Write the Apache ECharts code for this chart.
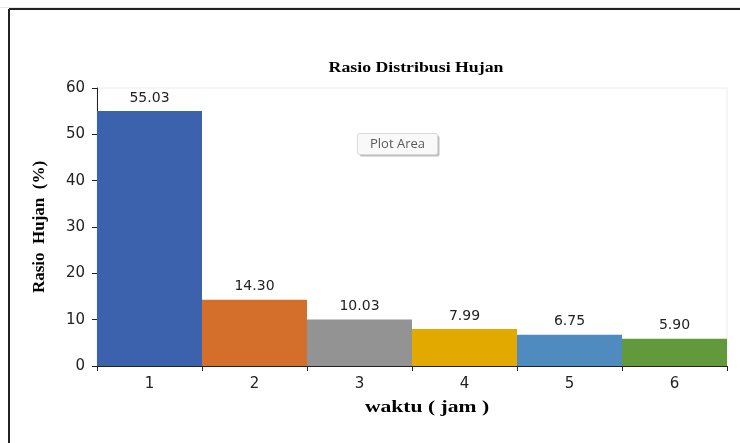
<!DOCTYPE html>
<html>
<head>
<meta charset="utf-8">
<script src="https://cdn.jsdelivr.net/npm/echarts@6/dist/echarts.min.js"></script>
<style>
  html, body { margin: 0; padding: 0; background: #fff; }
  #chart { width: 740px; height: 443px; }
</style>
</head>
<body>
<div id="chart"></div>
<script>
// Hourly rainfall distribution ratio
const categories = ['1', '2', '3', '4', '5', '6'];
const ratioValues = [55.03, 14.30, 10.03, 7.99, 6.75, 5.90];
const barColors = ['#3d62ad', '#d46e2b', '#939393', '#e2aa00', '#4f8bbf', '#62993c'];
const yTicks = { min: 0, max: 60, interval: 10 };
const chartTitle = 'Rasio Distribusi Hujan';
const xAxisTitle = 'waktu ( jam )';
const yAxisTitle = 'Rasio  Hujan  (%)';

const chart = echarts.init(document.getElementById('chart'), null, { renderer: 'canvas' });

const serifBold = '"Liberation Serif", "DejaVu Serif", serif';
const sans = '"DejaVu Sans", Verdana, sans-serif';

chart.setOption({
  animation: false,
  backgroundColor: '#ffffff',
  grid: { left: 97, right: 13, top: 88, bottom: 77, show: true, borderColor: '#ececec', borderWidth: 1 },
  xAxis: {
    type: 'category',
    data: categories,
    axisLine: { lineStyle: { color: '#222', width: 1 } },
    axisTick: { show: true, alignWithLabel: false, length: 5, lineStyle: { color: '#222' } },
    axisLabel: { fontFamily: sans, fontSize: 15, color: '#222', margin: 11 },
    splitLine: { show: false }
  },
  yAxis: {
    type: 'value',
    min: yTicks.min,
    max: yTicks.max,
    interval: yTicks.interval,
    name: yAxisTitle,
    nameLocation: 'middle',
    nameGap: 49,
    nameTextStyle: { fontFamily: serifBold, fontWeight: 'bold', fontSize: 17, color: '#000' },
    axisLine: { show: true, lineStyle: { color: '#222', width: 1 } },
    axisTick: { show: true, length: 5, lineStyle: { color: '#222' } },
    axisLabel: { fontFamily: sans, fontSize: 15, color: '#222', margin: 12 },
    splitLine: { show: false }
  },
  series: [{
    type: 'bar',
    data: ratioValues.map((v, i) => ({ value: v, itemStyle: { color: barColors[i] } })),
    barCategoryGap: '0%',
    label: {
      show: true,
      position: 'top',
      distance: 6,
      formatter: p => p.value.toFixed(2),
      fontFamily: sans,
      fontSize: 14,
      color: '#222'
    }
  }],
  graphic: [
    // outer frame (top and left edges)
    { type: 'line', shape: { x1: 9, y1: 9, x2: 740, y2: 9 }, style: { stroke: '#222', lineWidth: 2 } },
    { type: 'line', shape: { x1: 9, y1: 9, x2: 9, y2: 443 }, style: { stroke: '#222', lineWidth: 2 } },
    { type: 'line', shape: { x1: 0, y1: 7.5, x2: 740, y2: 7.5 }, style: { stroke: '#e6e6e6', lineWidth: 1 }, z: -1 },
    // chart title (wide bold serif)
    {
      type: 'text', x: 416, y: 68, scaleX: 1.27, z: 50,
      style: { text: chartTitle, align: 'center', verticalAlign: 'middle', font: 'bold 14px ' + serifBold, fill: '#000' }
    },
    // x axis title
    {
      type: 'text', x: 427, y: 408, scaleX: 1.27, z: 50,
      style: { text: xAxisTitle, align: 'center', verticalAlign: 'middle', font: 'bold 17px ' + serifBold, fill: '#000' }
    },
    // "Plot Area" hover hint box
    {
      type: 'group', left: 357, top: 133, z: 100,
      children: [
        { type: 'rect', shape: { x: 2, y: 2, width: 80, height: 21, r: 2 }, style: { fill: 'rgba(0,0,0,0.25)' } },
        { type: 'rect', shape: { x: 0, y: 0, width: 80, height: 21, r: 2 }, style: { fill: '#f9f9f9', stroke: '#d9d9d9', lineWidth: 1 } },
        { type: 'text', style: { text: 'Plot Area', x: 40, y: 11, align: 'center', verticalAlign: 'middle', font: '13px "Open Sans", "DejaVu Sans", sans-serif', fill: '#5a5a5a' } }
      ]
    }
  ]
});
</script>
</body>
</html>
